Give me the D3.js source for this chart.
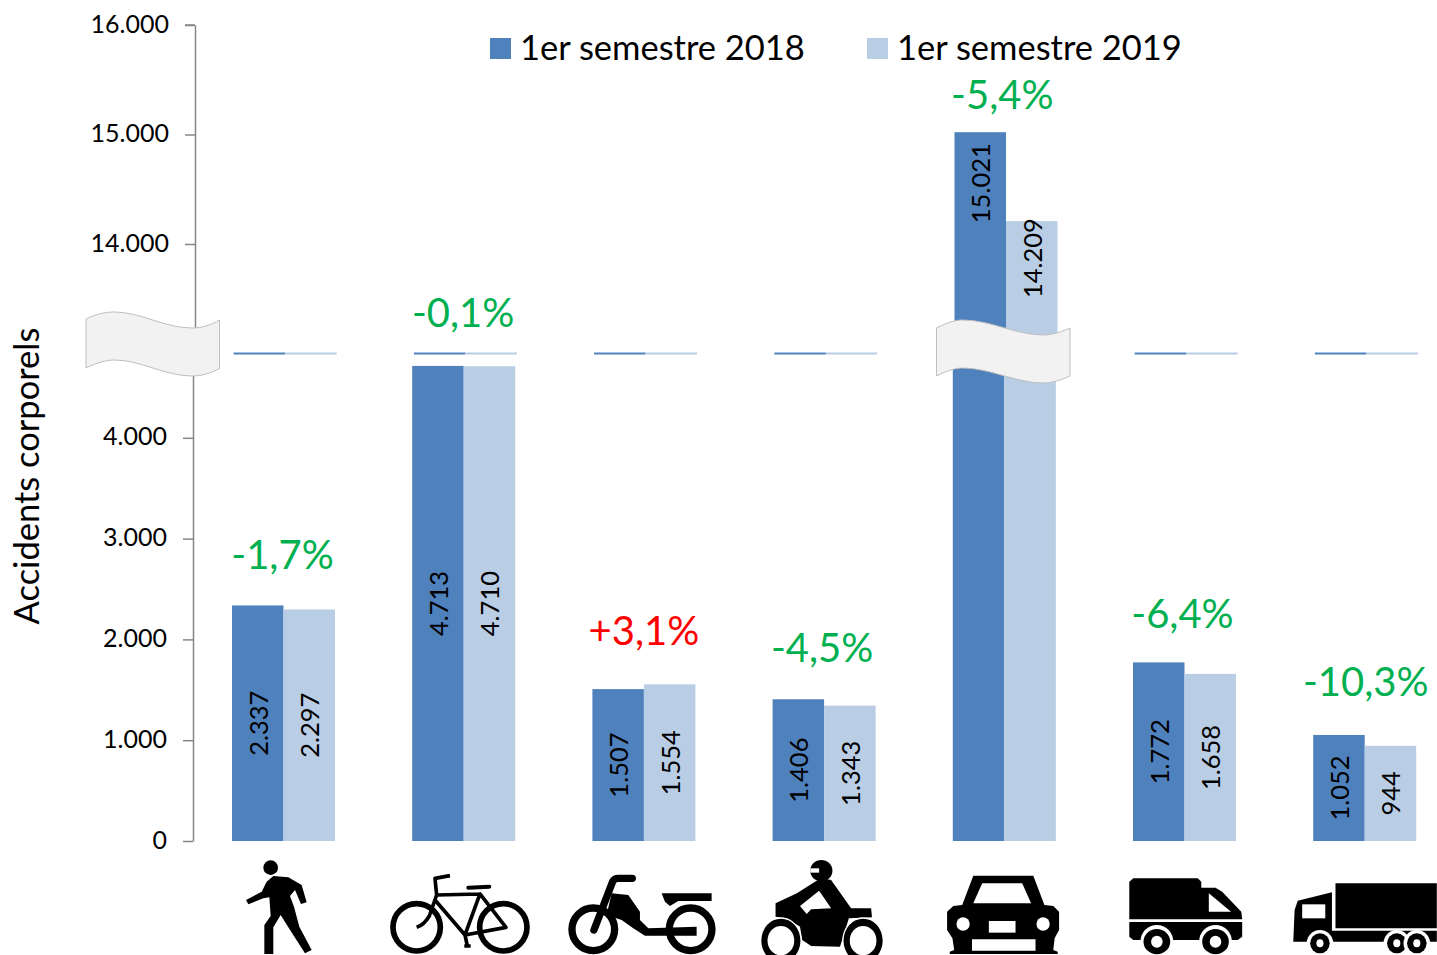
<!DOCTYPE html>
<html>
<head>
<meta charset="utf-8">
<style>
  body { margin:0; background:#fff; }
  svg { display:block; }
  text { font-family:Lato, sans-serif; fill:#000; }
  .axis path, .axis line { stroke:#868686; stroke-width:1.5; fill:none; }
  .axis text { font-size:25px; font-family:Lato, sans-serif; }
  .wave { fill:#f2f2f2; stroke:#bfbfbf; stroke-width:1; }
  .barLabel { font-size:25.5px; text-anchor:middle; dominant-baseline:central; }
  .pct { font-size:40px; text-anchor:middle; dominant-baseline:central; }
  .legend text { font-size:34.5px; dominant-baseline:central; }
  .ytitle { font-size:34.5px; text-anchor:middle; dominant-baseline:central; }
</style>
</head>
<body>
<svg width="1437" height="955"></svg>
<script src="https://d3js.org/d3.v7.min.js"></script>
<script>
var categories = ["Piétons","Vélos","Cyclomoteurs","Motos","Voitures","Utilitaires","Poids lourds"]
var seriesNames = ["1er semestre 2018","1er semestre 2019"]
var values2018 = [2337,4713,1507,1406,15021,1772,1052]
var values2019 = [2297,4710,1554,1343,14209,1658,944]
var pctLabels = ["-1,7%","-0,1%","+3,1%","-4,5%","-5,4%","-6,4%","-10,3%"]
var lowerTicks = [0,1000,2000,3000,4000]
var upperTicks = [14000,15000,16000]
var colors = ["#4f81bd","#b9cde5"]

// layout, hand placed labels in the original
var pctLift = [51,54,59,52,38,49,54]
var pctShift = [-1,-0.5,0,-2,-2,-2,1]
var carLabelDrop = [51,37]
var breakValue = 4800, upperBase = 13000

var svg = d3.select("svg")
var locale = d3.formatLocale({decimal:",",thousands:".",grouping:[3],currency:["",""]})
var fmt = locale.format(",d")

var x = d3.scaleBand().domain(categories).range([232,1416.2]).paddingInner(0.4284)
var xs = d3.scaleBand().domain([0,1]).range([0,x.bandwidth()])
var yLow = d3.scaleLinear().domain([0,5000]).range([841,337])
var yUp = d3.scaleLinear().domain([upperBase,16000]).range([353.5,25])
var upperDx = 1.7

var rows = categories.map(function(c,i){ return {cat:c,i:i,vals:[values2018[i],values2019[i]]} })

// upper panel
var gUp = svg.append("g").attr("transform","translate("+upperDx+",0)")
gUp.selectAll("g").data(rows).enter().append("g")
  .attr("transform",function(d){return "translate("+x(d.cat)+",0)"})
  .selectAll("rect").data(function(d){return d.vals}).enter().append("rect")
  .attr("x",function(d,j){return xs(j)})
  .attr("width",xs.bandwidth())
  .attr("y",function(d){return d>upperBase ? yUp(d) : yUp(upperBase)-1})
  .attr("height",function(d){return d>upperBase ? yUp(upperBase)-yUp(d) : 2})
  .attr("fill",function(d,j){return colors[j]})

// lower panel
var gLow = svg.append("g")
gLow.selectAll("g").data(rows).enter().append("g")
  .attr("transform",function(d){return "translate("+x(d.cat)+",0)"})
  .selectAll("rect").data(function(d){return d.vals}).enter().append("rect")
  .attr("x",function(d,j){return xs(j)})
  .attr("width",xs.bandwidth())
  .attr("y",function(d){return yLow(Math.min(d,breakValue))})
  .attr("height",function(d){return 841-yLow(Math.min(d,breakValue))})
  .attr("fill",function(d,j){return colors[j]})

// axes
svg.append("g").attr("class","axis").attr("transform","translate(195,0)")
  .call(d3.axisLeft(yUp).tickValues(upperTicks).tickFormat(fmt).tickSize(10).tickSizeOuter(0).tickPadding(16))
svg.append("g").attr("class","axis").attr("transform","translate(193,0)")
  .call(d3.axisLeft(yLow).tickValues(lowerTicks).tickFormat(fmt).tickSize(10).tickSizeOuter(0).tickPadding(16))
svg.selectAll(".axis .tick text").attr("fill","#000").attr("dy","0.28em")
// top tick of the upper axis sits on the domain end
svg.select(".axis").append("line").attr("x1",-10).attr("x2",0).attr("y1",25).attr("y2",25)

// value labels
rows.forEach(function(d){
  d.vals.forEach(function(v,j){
    var cx = x(d.cat)+xs(j)+xs.bandwidth()/2
    var cy
    if (v>upperBase) { cx += upperDx; cy = yUp(v)+carLabelDrop[j] }
    else cy = (yLow(v)+841)/2
    svg.append("text").attr("class","barLabel")
      .attr("transform","translate("+cx+","+cy+") rotate(-90)")
      .text(fmt(v))
  })
  var top = d.vals[0]>upperBase ? yUp(d.vals[0]) : yLow(d.vals[0])
  svg.append("text").attr("class","pct")
    .attr("x",x(d.cat)+x.bandwidth()/2+pctShift[d.i])
    .attr("y",top-pctLift[d.i])
    .attr("style","fill:"+(pctLabels[d.i][0]=="+" ? "#ff0000" : "#00b050"))
    .text(pctLabels[d.i])
})

// legend
var legend = svg.append("g").attr("class","legend")
seriesNames.forEach(function(s,j){
  var lx = [490,867][j]
  legend.append("rect").attr("x",lx).attr("y",38).attr("width",21).attr("height",21).attr("fill",colors[j])
  legend.append("text").attr("x",lx+30).attr("y",46).text(s)
})

svg.append("text").attr("class","ytitle")
  .attr("transform","translate(25.5,476) rotate(-90)")
  .text("Accidents corporels")

// axis break shapes
svg.append("path").attr("class","wave")
  .attr("d","M86 319 C98 313 107 312 115 312 C140 312 165 328 192 328 C202 328 211 325 219.5 320 L219.5 368.5 C211 373 202 376 192 376 C165 376 140 360 115 360 C107 360 98 362 86 368 Z")
svg.append("path").attr("class","wave")
  .attr("d","M936.5 328 C948 322 956 320 963 320 C990 320 1016 335 1043 335 C1052 335 1061 332 1070 328 L1070 376 C1061 380 1052 383 1043 383 C1016 383 990 368 963 368 C956 368 948 370 936.5 376 Z")

// pictograms, traced by hand
var icons = svg.append("g").attr("class","icons")
var ic3 = icons.append("g").attr("transform","translate(220,840) scale(0.3333)")
// pedestrian
ic3.append("circle").attr("cx",152).attr("cy",83).attr("r",22)
ic3.append("path").attr("d","M160 108 L205 112 L245 135 L260 187 L243 192 L225 150 L210 168 L222 200 L238 260 L275 330 L255 340 L205 262 L182 225 L160 262 L160 342 L133 342 L133 255 L152 228 L148 172 L130 175 L85 193 L78 180 L125 155 L140 125 Z")
// bicycle
var bike = ic3.append("g").attr("fill","none").attr("stroke","#000").attr("stroke-linejoin","round")
bike.append("circle").attr("cx",590).attr("cy",262).attr("r",71).attr("stroke-width",17)
bike.append("circle").attr("cx",850).attr("cy",262).attr("r",71).attr("stroke-width",17)
bike.append("path").attr("stroke-width",11).attr("d","M645 180 L735 285 L858 262 L780 162 L735 285 M650 165 L780 162 M650 165 L628 228 Q612 255 590 262 M650 165 L645 115 L690 107 M735 285 L742 318 M733 318 L752 318")
bike.append("path").attr("stroke-width",12).attr("stroke-linecap","round").attr("d","M745 143 L808 140")
// moped
var moped = ic3.append("g")
moped.append("g").attr("fill","none").attr("stroke","#000").attr("stroke-width",22)
  .call(function(g){
    g.append("circle").attr("cx",1120).attr("cy",268).attr("r",64)
    g.append("circle").attr("cx",1412).attr("cy",268).attr("r",64)
    g.append("path").attr("stroke-linecap","round").attr("stroke-linejoin","round").attr("d","M1122 270 L1178 125 Q1182 115 1195 115 L1237 115")
  })
moped.append("path").attr("d","M1175 160 L1225 165 L1260 215 L1260 240 L1285 265 L1430 260 L1430 287 L1275 287 L1240 265 L1205 240 L1160 225 Z")
moped.append("path").attr("d","M1325 160 L1475 160 L1475 183 L1375 183 L1350 198 L1335 185 Z")

var ic2 = icons.append("g").attr("transform","translate(740,840) scale(0.4444,0.3333)")
function ell(g,cx,cy,rx,ry,fill){ return g.append("ellipse").attr("cx",cx).attr("cy",cy).attr("rx",rx).attr("ry",ry).attr("fill",fill) }
function poly(g,d,fill){ return g.append("path").attr("d",d).attr("fill",fill) }
// motorbike
ell(ic2,183,92,25,32,"#000")
poly(ic2,"M158 85 L178 85 L178 98 L158 98 Z","#fff")
poly(ic2,"M185 115 L205 120 L250 205 L295 205 L297 232 L245 235 L225 320 L160 318 L140 300 L135 260 L105 235 L80 230 L80 190 L128 160 L175 120 Z","#000")
poly(ic2,"M135 198 L178 152 L205 205 L160 208 L150 222 Z","#fff")
ell(ic2,92,302,47,70,"#fff"); ell(ic2,277,302,47,70,"#fff")
ell(ic2,92,302,44,66,"#000"); ell(ic2,277,302,44,66,"#000")
ell(ic2,92,302,30,44,"#fff"); ell(ic2,277,302,30,44,"#fff")
// car
poly(ic2,"M525 107 L660 107 L685 195 L705 198 L718 215 L718 270 L708 295 L705 330 L715 335 L715 342 L472 342 L472 335 L482 330 L478 295 L466 270 L466 215 L480 198 L500 195 Z","#000")
poly(ic2,"M545 130 L635 130 L655 190 L525 190 Z","#fff")
ell(ic2,502,252,15,20,"#fff"); ell(ic2,682,252,15,20,"#fff")
poly(ic2,"M560 243 L620 243 L620 278 L560 278 Z","#fff")
poly(ic2,"M522 298 L665 298 L665 332 L522 332 Z","#fff")
// van
poly(ic2,"M885 115 L1030 115 L1038 125 L1038 143 L1070 143 L1085 155 L1128 215 L1130 238 L876 238 L876 125 Z","#000")
poly(ic2,"M1055 160 L1105 215 L1055 215 Z","#fff")
poly(ic2,"M876 246 L1130 246 L1130 290 L1120 300 L885 300 L876 290 Z","#000")
;[938,1070].forEach(function(c){
  ell(ic2,c,305,37,50,"#fff"); ell(ic2,c,305,30,38,"#000"); ell(ic2,c,305,13,18,"#fff")
})
// truck
poly(ic2,"M1340 130 L1568 130 L1568 265 L1340 265 Z","#000")
poly(ic2,"M1255 182 L1332 157 L1332 272 L1568 272 L1568 305 L1245 305 L1248 210 Z","#000")
poly(ic2,"M1265 193 L1317 193 L1317 235 L1265 235 Z","#fff")
;[1305,1478,1523].forEach(function(c){
  ell(ic2,c,310,30,40,"#fff"); ell(ic2,c,310,22,30,"#000"); ell(ic2,c,310,8,12,"#fff")
})
</script>
</body>
</html>
